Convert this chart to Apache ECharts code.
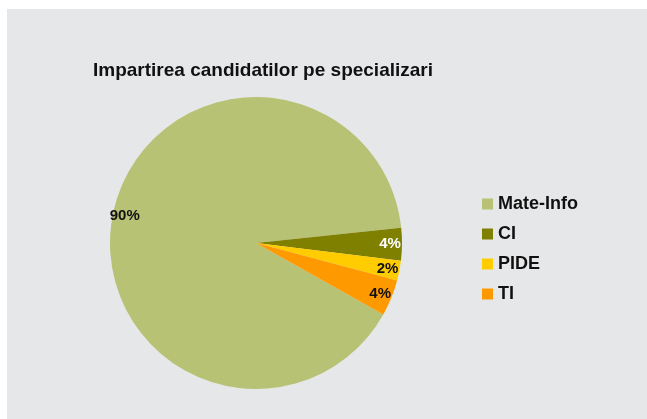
<!DOCTYPE html>
<html>
<head>
<meta charset="utf-8">
<script src="https://cdn.jsdelivr.net/npm/echarts@6/dist/echarts.min.js"></script>
<style>
html,body{margin:0;padding:0;background:#ffffff;}
#chart{width:647px;height:419px;}
</style>
</head>
<body>
<div id="chart"></div>
<script>
var titleText = 'Impartirea candidatilor pe specializari';
var categories = ['Mate-Info', 'CI', 'PIDE', 'TI'];
var values = [451, 18, 11, 20];
var sliceColors = ['#b8c274', '#7f7f00', '#ffcc00', '#ff9900'];
var labelColors = ['#111111', '#ffffff', '#111111', '#111111'];

var chart = echarts.init(document.getElementById('chart'), null, {renderer: 'canvas'});

var center = [256, 243];
var R = 146;

var mainData = categories.map(function (c, i) {
  return {name: c, value: values[i], itemStyle: {color: sliceColors[i]}};
});
var labelData = categories.map(function (c, i) {
  return {name: c, value: values[i], label: {color: labelColors[i]}};
});

var option = {
  backgroundColor: '#ffffff',
  animation: false,
  graphic: [{
    type: 'rect', left: 7, top: 9, z: -10,
    shape: {width: 640, height: 410},
    style: {fill: '#e6e7e9'}
  }],
  title: {
    text: titleText,
    left: 88, top: 56,
    textStyle: {fontFamily: 'Liberation Sans, Arial, sans-serif', fontSize: 19, fontWeight: 'bold', color: '#111111'}
  },
  legend: {
    orient: 'vertical',
    left: 477, top: 190,
    itemWidth: 11, itemHeight: 11, itemGap: 12,
    icon: 'rect',
    data: categories,
    textStyle: {fontFamily: 'Liberation Sans, Arial, sans-serif', fontSize: 18, fontWeight: 'bold', color: '#111111'}
  },
  series: [{
    type: 'pie',
    center: center,
    radius: [0, R],
    startAngle: -29.3,
    clockwise: true,
    silent: true,
    label: {show: false},
    labelLine: {show: false},
    itemStyle: {borderWidth: 0},
    data: mainData
  }, {
    type: 'pie',
    center: center,
    radius: [R - 30, R],
    startAngle: -29.3,
    clockwise: true,
    silent: true,
    itemStyle: {color: 'rgba(0,0,0,0)', borderWidth: 0},
    label: {
      show: true,
      position: 'inside',
      formatter: '{d}%',
      fontFamily: 'Liberation Sans, Arial, sans-serif',
      fontSize: 15,
      fontWeight: 'bold'
    },
    labelLine: {show: false},
    percentPrecision: 0,
    data: labelData
  }]
};
chart.setOption(option);
</script>
</body>
</html>
